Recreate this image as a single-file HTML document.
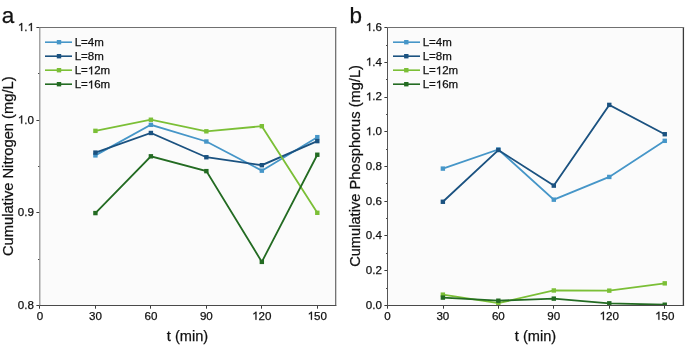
<!DOCTYPE html>
<html><head><meta charset="utf-8"><style>
html,body{margin:0;padding:0;background:#fff;}
svg{display:block;will-change:transform;}
text{font-family:"Liberation Sans",sans-serif;fill:#111;stroke:#111;stroke-width:0.25px;}
.h{fill-opacity:0;stroke-opacity:0;}
.one{fill:#111;stroke:#111;stroke-width:44px;}
</style></head><body>
<svg width="685" height="347" viewBox="0 0 685 347">
<rect x="39.5" y="27.5" width="296" height="278" fill="#fbfbfb"/>
<line x1="36.4" y1="305.50" x2="39.5" y2="305.50" stroke="#3a3a3a" stroke-width="1"/>
<text x="17.87" y="308.80" font-size="11.6">0.8</text>
<line x1="36.4" y1="212.50" x2="39.5" y2="212.50" stroke="#3a3a3a" stroke-width="1"/>
<text x="17.87" y="216.20" font-size="11.6">0.9</text>
<line x1="36.4" y1="120.50" x2="39.5" y2="120.50" stroke="#3a3a3a" stroke-width="1"/>
<text x="17.87" y="123.60" font-size="11.6"><tspan class="h">1</tspan>.0</text><path class="one" transform="matrix(0.005664 0 0 -0.005664 17.87 123.60)" d="M763 0H583V1147C540 1106 483 1064 413 1023C343 982 280 951 223 930V1104C322 1150 408 1206 482 1270C556 1334 609 1390 632 1409H763Z"/>
<line x1="36.4" y1="27.50" x2="39.5" y2="27.50" stroke="#3a3a3a" stroke-width="1"/>
<text x="17.87" y="31.00" font-size="11.6"><tspan class="h">1</tspan>.<tspan class="h">1</tspan></text><path class="one" transform="matrix(0.005664 0 0 -0.005664 17.87 31.00)" d="M763 0H583V1147C540 1106 483 1064 413 1023C343 982 280 951 223 930V1104C322 1150 408 1206 482 1270C556 1334 609 1390 632 1409H763Z"/><path class="one" transform="matrix(0.005664 0 0 -0.005664 27.55 31.00)" d="M763 0H583V1147C540 1106 483 1064 413 1023C343 982 280 951 223 930V1104C322 1150 408 1206 482 1270C556 1334 609 1390 632 1409H763Z"/>
<line x1="38.1" y1="259.50" x2="39.5" y2="259.50" stroke="#3a3a3a" stroke-width="1"/>
<line x1="38.1" y1="166.50" x2="39.5" y2="166.50" stroke="#3a3a3a" stroke-width="1"/>
<line x1="38.1" y1="73.50" x2="39.5" y2="73.50" stroke="#3a3a3a" stroke-width="1"/>
<line x1="39.50" y1="305.5" x2="39.50" y2="308.7" stroke="#3a3a3a" stroke-width="1"/>
<text x="36.72" y="319.70" font-size="11.6">0</text>
<line x1="95.50" y1="305.5" x2="95.50" y2="308.7" stroke="#3a3a3a" stroke-width="1"/>
<text x="88.97" y="319.70" font-size="11.6">30</text>
<line x1="150.50" y1="305.5" x2="150.50" y2="308.7" stroke="#3a3a3a" stroke-width="1"/>
<text x="144.44" y="319.70" font-size="11.6">60</text>
<line x1="206.50" y1="305.5" x2="206.50" y2="308.7" stroke="#3a3a3a" stroke-width="1"/>
<text x="199.91" y="319.70" font-size="11.6">90</text>
<line x1="261.50" y1="305.5" x2="261.50" y2="308.7" stroke="#3a3a3a" stroke-width="1"/>
<text x="252.15" y="319.70" font-size="11.6"><tspan class="h">1</tspan>20</text><path class="one" transform="matrix(0.005664 0 0 -0.005664 252.15 319.70)" d="M763 0H583V1147C540 1106 483 1064 413 1023C343 982 280 951 223 930V1104C322 1150 408 1206 482 1270C556 1334 609 1390 632 1409H763Z"/>
<line x1="317.50" y1="305.5" x2="317.50" y2="308.7" stroke="#3a3a3a" stroke-width="1"/>
<text x="307.62" y="319.70" font-size="11.6"><tspan class="h">1</tspan>50</text><path class="one" transform="matrix(0.005664 0 0 -0.005664 307.62 319.70)" d="M763 0H583V1147C540 1106 483 1064 413 1023C343 982 280 951 223 930V1104C322 1150 408 1206 482 1270C556 1334 609 1390 632 1409H763Z"/>
<line x1="39.8" y1="27" x2="39.8" y2="306" stroke="#8a8a8a" stroke-width="1.15"/>
<line x1="335.7" y1="27" x2="335.7" y2="306" stroke="#666" stroke-width="1.2"/>
<line x1="39.3" y1="27.5" x2="336.3" y2="27.5" stroke="#707070" stroke-width="1.15"/>
<line x1="39.3" y1="305.5" x2="336.3" y2="305.5" stroke="#4a4a4a" stroke-width="1.1"/>
<text x="187.5" y="340.9" text-anchor="middle" font-size="14.6">t (min)</text>
<text transform="translate(13.4,166.25) rotate(-90)" text-anchor="middle" font-size="14.7">Cumulative Nitrogen (mg/L)</text>
<text x="1.8" y="23.0" font-size="22.5">a</text>
<rect x="387.5" y="27.5" width="296" height="278" fill="#fbfbfb"/>
<line x1="384.4" y1="305.50" x2="387.5" y2="305.50" stroke="#3a3a3a" stroke-width="1"/>
<text x="365.87" y="308.80" font-size="11.6">0.0</text>
<line x1="384.4" y1="270.50" x2="387.5" y2="270.50" stroke="#3a3a3a" stroke-width="1"/>
<text x="365.87" y="274.08" font-size="11.6">0.2</text>
<line x1="384.4" y1="235.50" x2="387.5" y2="235.50" stroke="#3a3a3a" stroke-width="1"/>
<text x="365.87" y="239.36" font-size="11.6">0.4</text>
<line x1="384.4" y1="201.50" x2="387.5" y2="201.50" stroke="#3a3a3a" stroke-width="1"/>
<text x="365.87" y="204.64" font-size="11.6">0.6</text>
<line x1="384.4" y1="166.50" x2="387.5" y2="166.50" stroke="#3a3a3a" stroke-width="1"/>
<text x="365.87" y="169.92" font-size="11.6">0.8</text>
<line x1="384.4" y1="131.50" x2="387.5" y2="131.50" stroke="#3a3a3a" stroke-width="1"/>
<text x="365.87" y="135.20" font-size="11.6"><tspan class="h">1</tspan>.0</text><path class="one" transform="matrix(0.005664 0 0 -0.005664 365.87 135.20)" d="M763 0H583V1147C540 1106 483 1064 413 1023C343 982 280 951 223 930V1104C322 1150 408 1206 482 1270C556 1334 609 1390 632 1409H763Z"/>
<line x1="384.4" y1="97.50" x2="387.5" y2="97.50" stroke="#3a3a3a" stroke-width="1"/>
<text x="365.87" y="100.48" font-size="11.6"><tspan class="h">1</tspan>.2</text><path class="one" transform="matrix(0.005664 0 0 -0.005664 365.87 100.48)" d="M763 0H583V1147C540 1106 483 1064 413 1023C343 982 280 951 223 930V1104C322 1150 408 1206 482 1270C556 1334 609 1390 632 1409H763Z"/>
<line x1="384.4" y1="62.50" x2="387.5" y2="62.50" stroke="#3a3a3a" stroke-width="1"/>
<text x="365.87" y="65.76" font-size="11.6"><tspan class="h">1</tspan>.4</text><path class="one" transform="matrix(0.005664 0 0 -0.005664 365.87 65.76)" d="M763 0H583V1147C540 1106 483 1064 413 1023C343 982 280 951 223 930V1104C322 1150 408 1206 482 1270C556 1334 609 1390 632 1409H763Z"/>
<line x1="384.4" y1="27.50" x2="387.5" y2="27.50" stroke="#3a3a3a" stroke-width="1"/>
<text x="365.87" y="31.04" font-size="11.6"><tspan class="h">1</tspan>.6</text><path class="one" transform="matrix(0.005664 0 0 -0.005664 365.87 31.04)" d="M763 0H583V1147C540 1106 483 1064 413 1023C343 982 280 951 223 930V1104C322 1150 408 1206 482 1270C556 1334 609 1390 632 1409H763Z"/>
<line x1="386.1" y1="288.50" x2="387.5" y2="288.50" stroke="#3a3a3a" stroke-width="1"/>
<line x1="386.1" y1="253.50" x2="387.5" y2="253.50" stroke="#3a3a3a" stroke-width="1"/>
<line x1="386.1" y1="218.50" x2="387.5" y2="218.50" stroke="#3a3a3a" stroke-width="1"/>
<line x1="386.1" y1="183.50" x2="387.5" y2="183.50" stroke="#3a3a3a" stroke-width="1"/>
<line x1="386.1" y1="149.50" x2="387.5" y2="149.50" stroke="#3a3a3a" stroke-width="1"/>
<line x1="386.1" y1="114.50" x2="387.5" y2="114.50" stroke="#3a3a3a" stroke-width="1"/>
<line x1="386.1" y1="79.50" x2="387.5" y2="79.50" stroke="#3a3a3a" stroke-width="1"/>
<line x1="386.1" y1="45.50" x2="387.5" y2="45.50" stroke="#3a3a3a" stroke-width="1"/>
<line x1="387.50" y1="305.5" x2="387.50" y2="308.7" stroke="#3a3a3a" stroke-width="1"/>
<text x="384.17" y="319.70" font-size="11.6">0</text>
<line x1="443.50" y1="305.5" x2="443.50" y2="308.7" stroke="#3a3a3a" stroke-width="1"/>
<text x="436.42" y="319.70" font-size="11.6">30</text>
<line x1="498.50" y1="305.5" x2="498.50" y2="308.7" stroke="#3a3a3a" stroke-width="1"/>
<text x="491.89" y="319.70" font-size="11.6">60</text>
<line x1="553.50" y1="305.5" x2="553.50" y2="308.7" stroke="#3a3a3a" stroke-width="1"/>
<text x="547.36" y="319.70" font-size="11.6">90</text>
<line x1="609.50" y1="305.5" x2="609.50" y2="308.7" stroke="#3a3a3a" stroke-width="1"/>
<text x="599.60" y="319.70" font-size="11.6"><tspan class="h">1</tspan>20</text><path class="one" transform="matrix(0.005664 0 0 -0.005664 599.60 319.70)" d="M763 0H583V1147C540 1106 483 1064 413 1023C343 982 280 951 223 930V1104C322 1150 408 1206 482 1270C556 1334 609 1390 632 1409H763Z"/>
<line x1="664.50" y1="305.5" x2="664.50" y2="308.7" stroke="#3a3a3a" stroke-width="1"/>
<text x="655.07" y="319.70" font-size="11.6"><tspan class="h">1</tspan>50</text><path class="one" transform="matrix(0.005664 0 0 -0.005664 655.07 319.70)" d="M763 0H583V1147C540 1106 483 1064 413 1023C343 982 280 951 223 930V1104C322 1150 408 1206 482 1270C556 1334 609 1390 632 1409H763Z"/>
<line x1="387.5" y1="27" x2="387.5" y2="306" stroke="#555" stroke-width="1"/>
<line x1="683.4" y1="27" x2="683.4" y2="306" stroke="#3a3a3a" stroke-width="1.3"/>
<line x1="387.0" y1="27.5" x2="684.1" y2="27.5" stroke="#707070" stroke-width="1.15"/>
<line x1="387.0" y1="305.5" x2="684.1" y2="305.5" stroke="#4a4a4a" stroke-width="1.1"/>
<text x="535.5" y="340.9" text-anchor="middle" font-size="14.6">t (min)</text>
<text transform="translate(360.4,165.95) rotate(-90)" text-anchor="middle" font-size="14.65">Cumulative Phosphorus (mg/L)</text>
<text x="349.6" y="23.4" font-size="22.5">b</text>
<line x1="45.0" y1="42.2" x2="72.0" y2="42.2" stroke="#4696c8" stroke-width="1.6"/>
<rect x="56.8" y="40.0" width="4.4" height="4.4" fill="#4696c8"/>
<text x="74.70" y="46.40" font-size="11.5">L=4m</text>
<line x1="45.0" y1="56.2" x2="72.0" y2="56.2" stroke="#1b5280" stroke-width="1.6"/>
<rect x="56.8" y="54.0" width="4.4" height="4.4" fill="#1b5280"/>
<text x="74.70" y="60.40" font-size="11.5">L=8m</text>
<line x1="45.0" y1="70.2" x2="72.0" y2="70.2" stroke="#7bbf36" stroke-width="1.6"/>
<rect x="56.8" y="68.0" width="4.4" height="4.4" fill="#7bbf36"/>
<text x="74.70" y="74.40" font-size="11.5">L=<tspan class="h">1</tspan>2m</text><path class="one" transform="matrix(0.005615 0 0 -0.005615 87.81 74.40)" d="M763 0H583V1147C540 1106 483 1064 413 1023C343 982 280 951 223 930V1104C322 1150 408 1206 482 1270C556 1334 609 1390 632 1409H763Z"/>
<line x1="45.0" y1="84.2" x2="72.0" y2="84.2" stroke="#236b22" stroke-width="1.6"/>
<rect x="56.8" y="82.0" width="4.4" height="4.4" fill="#236b22"/>
<text x="74.70" y="88.40" font-size="11.5">L=<tspan class="h">1</tspan>6m</text><path class="one" transform="matrix(0.005615 0 0 -0.005615 87.81 88.40)" d="M763 0H583V1147C540 1106 483 1064 413 1023C343 982 280 951 223 930V1104C322 1150 408 1206 482 1270C556 1334 609 1390 632 1409H763Z"/>
<line x1="393.0" y1="42.2" x2="420.0" y2="42.2" stroke="#4696c8" stroke-width="1.6"/>
<rect x="404.1" y="40.0" width="4.4" height="4.4" fill="#4696c8"/>
<text x="422.70" y="46.40" font-size="11.5">L=4m</text>
<line x1="393.0" y1="56.2" x2="420.0" y2="56.2" stroke="#1b5280" stroke-width="1.6"/>
<rect x="404.1" y="54.0" width="4.4" height="4.4" fill="#1b5280"/>
<text x="422.70" y="60.40" font-size="11.5">L=8m</text>
<line x1="393.0" y1="70.2" x2="420.0" y2="70.2" stroke="#7bbf36" stroke-width="1.6"/>
<rect x="404.1" y="68.0" width="4.4" height="4.4" fill="#7bbf36"/>
<text x="422.70" y="74.40" font-size="11.5">L=<tspan class="h">1</tspan>2m</text><path class="one" transform="matrix(0.005615 0 0 -0.005615 435.81 74.40)" d="M763 0H583V1147C540 1106 483 1064 413 1023C343 982 280 951 223 930V1104C322 1150 408 1206 482 1270C556 1334 609 1390 632 1409H763Z"/>
<line x1="393.0" y1="84.2" x2="420.0" y2="84.2" stroke="#236b22" stroke-width="1.6"/>
<rect x="404.1" y="82.0" width="4.4" height="4.4" fill="#236b22"/>
<text x="422.70" y="88.40" font-size="11.5">L=<tspan class="h">1</tspan>6m</text><path class="one" transform="matrix(0.005615 0 0 -0.005615 435.81 88.40)" d="M763 0H583V1147C540 1106 483 1064 413 1023C343 982 280 951 223 930V1104C322 1150 408 1206 482 1270C556 1334 609 1390 632 1409H763Z"/>
<defs><clipPath id="ca"><rect x="39.5" y="27.5" width="296.5" height="277.6"/></clipPath><clipPath id="cb"><rect x="387.5" y="27.5" width="296" height="277.6"/></clipPath></defs>
<g clip-path="url(#ca)"><polyline points="95.42,155.39 150.89,124.83 206.36,141.50 261.83,170.67 317.30,137.15" fill="none" stroke="#4696c8" stroke-width="1.8" stroke-linejoin="miter"/>
<rect x="93.22" y="153.19" width="4.4" height="4.4" fill="#4696c8"/>
<rect x="148.69" y="122.63" width="4.4" height="4.4" fill="#4696c8"/>
<rect x="204.16" y="139.30" width="4.4" height="4.4" fill="#4696c8"/>
<rect x="259.63" y="168.47" width="4.4" height="4.4" fill="#4696c8"/>
<rect x="315.10" y="134.95" width="4.4" height="4.4" fill="#4696c8"/>
<polyline points="95.42,152.61 150.89,132.98 206.36,157.24 261.83,165.20 317.30,141.13" fill="none" stroke="#1b5280" stroke-width="1.8" stroke-linejoin="miter"/>
<rect x="93.22" y="150.41" width="4.4" height="4.4" fill="#1b5280"/>
<rect x="148.69" y="130.78" width="4.4" height="4.4" fill="#1b5280"/>
<rect x="204.16" y="155.04" width="4.4" height="4.4" fill="#1b5280"/>
<rect x="259.63" y="163.00" width="4.4" height="4.4" fill="#1b5280"/>
<rect x="315.10" y="138.93" width="4.4" height="4.4" fill="#1b5280"/>
<polyline points="95.42,130.85 150.89,119.74 206.36,131.31 261.83,126.22 317.30,212.80" fill="none" stroke="#7bbf36" stroke-width="1.8" stroke-linejoin="miter"/>
<rect x="93.22" y="128.65" width="4.4" height="4.4" fill="#7bbf36"/>
<rect x="148.69" y="117.54" width="4.4" height="4.4" fill="#7bbf36"/>
<rect x="204.16" y="129.11" width="4.4" height="4.4" fill="#7bbf36"/>
<rect x="259.63" y="124.02" width="4.4" height="4.4" fill="#7bbf36"/>
<rect x="315.10" y="210.60" width="4.4" height="4.4" fill="#7bbf36"/>
<polyline points="95.42,213.08 150.89,156.31 206.36,171.13 261.83,261.88 317.30,154.74" fill="none" stroke="#236b22" stroke-width="1.8" stroke-linejoin="miter"/>
<rect x="93.22" y="210.88" width="4.4" height="4.4" fill="#236b22"/>
<rect x="148.69" y="154.11" width="4.4" height="4.4" fill="#236b22"/>
<rect x="204.16" y="168.93" width="4.4" height="4.4" fill="#236b22"/>
<rect x="259.63" y="259.68" width="4.4" height="4.4" fill="#236b22"/>
<rect x="315.10" y="152.54" width="4.4" height="4.4" fill="#236b22"/></g>
<g clip-path="url(#cb)"><polyline points="442.87,168.60 498.34,149.51 553.81,199.68 609.28,176.94 664.75,140.83" fill="none" stroke="#4696c8" stroke-width="1.8" stroke-linejoin="miter"/>
<rect x="440.67" y="166.40" width="4.4" height="4.4" fill="#4696c8"/>
<rect x="496.14" y="147.31" width="4.4" height="4.4" fill="#4696c8"/>
<rect x="551.61" y="197.48" width="4.4" height="4.4" fill="#4696c8"/>
<rect x="607.08" y="174.74" width="4.4" height="4.4" fill="#4696c8"/>
<rect x="662.55" y="138.63" width="4.4" height="4.4" fill="#4696c8"/>
<polyline points="442.87,201.76 498.34,150.03 553.81,185.62 609.28,104.89 664.75,134.23" fill="none" stroke="#1b5280" stroke-width="1.8" stroke-linejoin="miter"/>
<rect x="440.67" y="199.56" width="4.4" height="4.4" fill="#1b5280"/>
<rect x="496.14" y="147.83" width="4.4" height="4.4" fill="#1b5280"/>
<rect x="551.61" y="183.42" width="4.4" height="4.4" fill="#1b5280"/>
<rect x="607.08" y="102.69" width="4.4" height="4.4" fill="#1b5280"/>
<rect x="662.55" y="132.03" width="4.4" height="4.4" fill="#1b5280"/>
<polyline points="442.87,294.64 498.34,303.14 553.81,290.47 609.28,290.64 664.75,283.35" fill="none" stroke="#7bbf36" stroke-width="1.8" stroke-linejoin="miter"/>
<rect x="440.67" y="292.44" width="4.4" height="4.4" fill="#7bbf36"/>
<rect x="496.14" y="300.94" width="4.4" height="4.4" fill="#7bbf36"/>
<rect x="551.61" y="288.27" width="4.4" height="4.4" fill="#7bbf36"/>
<rect x="607.08" y="288.44" width="4.4" height="4.4" fill="#7bbf36"/>
<rect x="662.55" y="281.15" width="4.4" height="4.4" fill="#7bbf36"/>
<polyline points="442.87,297.59 498.34,300.71 553.81,298.63 609.28,303.32 664.75,304.71" fill="none" stroke="#236b22" stroke-width="1.8" stroke-linejoin="miter"/>
<rect x="440.67" y="295.39" width="4.4" height="4.4" fill="#236b22"/>
<rect x="496.14" y="298.51" width="4.4" height="4.4" fill="#236b22"/>
<rect x="551.61" y="296.43" width="4.4" height="4.4" fill="#236b22"/>
<rect x="607.08" y="301.12" width="4.4" height="4.4" fill="#236b22"/>
<rect x="662.55" y="302.51" width="4.4" height="4.4" fill="#236b22"/></g>
</svg>
</body></html>
